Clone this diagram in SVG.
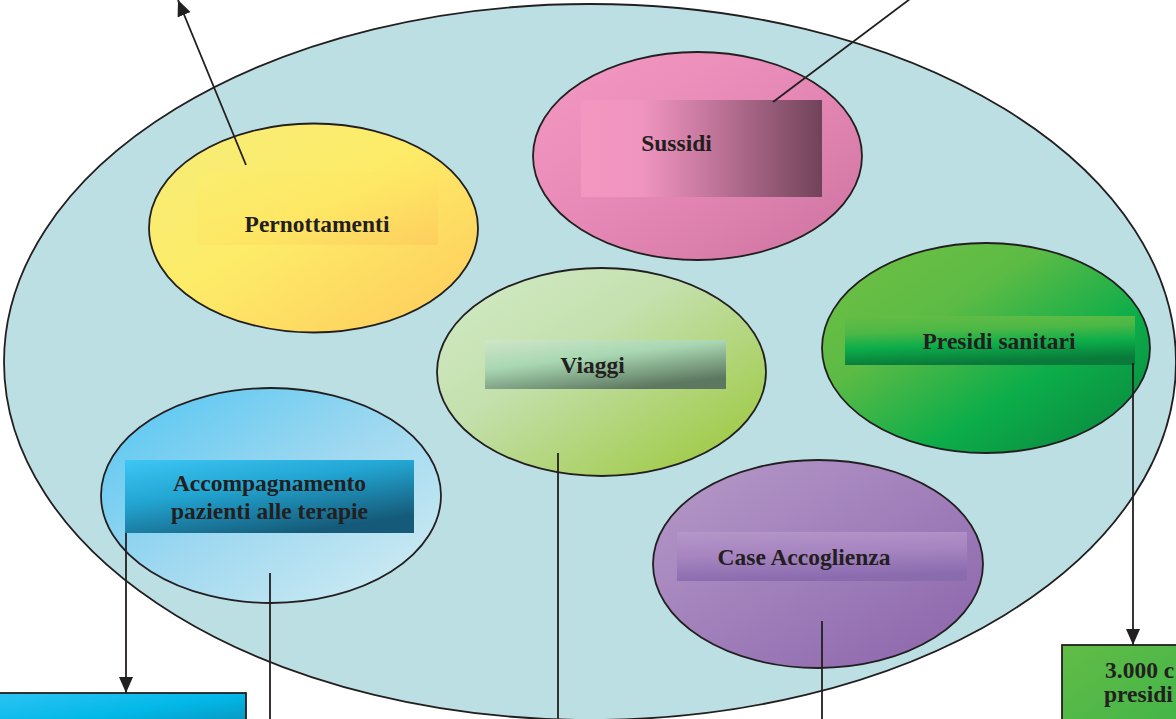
<svg xmlns="http://www.w3.org/2000/svg" width="1176" height="719" viewBox="0 0 1176 719">
<defs>
<style>
.ol{stroke:#231f20;stroke-width:1.8}
.ln{stroke:#231f20;stroke-width:1.8;fill:none}
.t{font-family:"Liberation Serif","Times New Roman",serif;font-weight:bold;font-size:23.5px;fill:#231f20;text-anchor:middle}
.tl{font-family:"Liberation Serif","Times New Roman",serif;font-weight:bold;font-size:23.5px;fill:#231f20}
</style>
<marker id="arr" viewBox="0 0 16 14" refX="16" refY="7" markerWidth="16" markerHeight="14" markerUnits="userSpaceOnUse" orient="auto">
<path d="M0,0 L16,7 L0,14 z" fill="#231f20"/>
</marker>
<linearGradient id="gPer" x1="0" y1="0" x2="1" y2="1"><stop offset="0" stop-color="#f6ec7a"/><stop offset="0.45" stop-color="#fdec68"/><stop offset="1" stop-color="#fec95c"/></linearGradient>
<linearGradient id="gPerR" x1="0" y1="0" x2="1" y2="1"><stop offset="0" stop-color="#fbee6c"/><stop offset="0.5" stop-color="#fee562"/><stop offset="1" stop-color="#fdc65c"/></linearGradient>
<linearGradient id="gSus" x1="0" y1="0" x2="1" y2="1"><stop offset="0" stop-color="#f49ac3"/><stop offset="0.5" stop-color="#e688b6"/><stop offset="1" stop-color="#cc73a0"/></linearGradient>
<linearGradient id="gSusR" x1="0" y1="0" x2="1" y2="0"><stop offset="0" stop-color="#f397c0"/><stop offset="0.25" stop-color="#f095c0"/><stop offset="0.5" stop-color="#c97aa0"/><stop offset="1" stop-color="#70435a"/></linearGradient>
<linearGradient id="gVia" x1="0" y1="0" x2="1" y2="1"><stop offset="0" stop-color="#d3ebc8"/><stop offset="0.4" stop-color="#c4e0ad"/><stop offset="1" stop-color="#98c632"/></linearGradient>
<linearGradient id="gViaR" x1="0" y1="0" x2="0.6" y2="1"><stop offset="0" stop-color="#cfe6c8"/><stop offset="0.45" stop-color="#a9d7b2"/><stop offset="1" stop-color="#5d7860"/></linearGradient>
<linearGradient id="gPre" x1="0" y1="0" x2="1" y2="1"><stop offset="0" stop-color="#72c044"/><stop offset="0.35" stop-color="#5cbb45"/><stop offset="0.65" stop-color="#0cad4a"/><stop offset="1" stop-color="#0a823c"/></linearGradient>
<linearGradient id="gPreR" x1="0" y1="0" x2="0.2" y2="1"><stop offset="0" stop-color="#66bd45"/><stop offset="0.35" stop-color="#4cb846"/><stop offset="0.65" stop-color="#0cad4a"/><stop offset="1" stop-color="#0a7a3a"/></linearGradient>
<linearGradient id="gAcc" x1="0" y1="0" x2="1" y2="1"><stop offset="0" stop-color="#4fc5f2"/><stop offset="0.5" stop-color="#9ed8f0"/><stop offset="1" stop-color="#d6eef3"/></linearGradient>
<linearGradient id="gAccR" x1="0" y1="0" x2="0.6" y2="1"><stop offset="0" stop-color="#3ec6f4"/><stop offset="0.45" stop-color="#22a5d2"/><stop offset="1" stop-color="#155a78"/></linearGradient>
<linearGradient id="gCas" x1="0" y1="0" x2="1" y2="1"><stop offset="0" stop-color="#b79ac9"/><stop offset="1" stop-color="#8a64ab"/></linearGradient>
<linearGradient id="gCasR" x1="0" y1="0" x2="0.2" y2="1"><stop offset="0" stop-color="#b597c9"/><stop offset="0.5" stop-color="#a684c0"/><stop offset="1" stop-color="#8a6bae"/></linearGradient>
<linearGradient id="gBoxL" x1="0" y1="0" x2="1" y2="1"><stop offset="0" stop-color="#2cc4f2"/><stop offset="0.5" stop-color="#02b8e8"/><stop offset="1" stop-color="#0a8cb2"/></linearGradient>
<linearGradient id="gBoxR" x1="0" y1="0" x2="1" y2="1"><stop offset="0" stop-color="#62bc46"/><stop offset="1" stop-color="#3fb449"/></linearGradient>
</defs>

<g id="container">
<ellipse cx="590" cy="362" rx="586" ry="358" fill="#bcdfe3" class="ol"/>
</g>

<g id="node-pernottamenti">
<ellipse cx="313.5" cy="228" rx="164.5" ry="104.5" fill="url(#gPer)" class="ol"/>
<rect x="197" y="172" width="241" height="73" fill="url(#gPerR)" opacity="0.6"/>
<text x="317" y="232" class="t">Pernottamenti</text>
</g>

<g id="node-sussidi">
<ellipse cx="697.5" cy="156" rx="164.5" ry="104" fill="url(#gSus)" class="ol"/>
<rect x="581" y="100" width="241" height="97" fill="url(#gSusR)"/>
<text x="676.5" y="151" class="t">Sussidi</text>
</g>

<g id="node-viaggi">
<ellipse cx="601.5" cy="372" rx="164.5" ry="104" fill="url(#gVia)" class="ol"/>
<rect x="485" y="340" width="241" height="49" fill="url(#gViaR)"/>
<text x="592.5" y="373" class="t">Viaggi</text>
</g>

<g id="node-presidi">
<ellipse cx="986" cy="348" rx="164" ry="105" fill="url(#gPre)" class="ol"/>
<rect x="845" y="316" width="290" height="49" fill="url(#gPreR)"/>
<text x="999" y="349" class="t">Presidi sanitari</text>
</g>

<g id="node-accompagnamento">
<ellipse cx="271" cy="495.5" rx="170" ry="107.5" fill="url(#gAcc)" class="ol"/>
<rect x="125" y="460" width="289" height="73" fill="url(#gAccR)"/>
<text x="269.5" y="491" class="t">Accompagnamento</text>
<text x="269.5" y="519" class="t">pazienti alle terapie</text>
</g>

<g id="node-case">
<ellipse cx="818" cy="564" rx="165" ry="104" fill="url(#gCas)" class="ol"/>
<rect x="677" y="532" width="290" height="49" fill="url(#gCasR)"/>
<text x="804" y="565" class="t">Case Accoglienza</text>
</g>

<g id="node-box-left">
<rect x="-2" y="693" width="248" height="40" fill="url(#gBoxL)" class="ol"/>
</g>

<g id="node-box-right">
<rect x="1062" y="645" width="130" height="90" fill="url(#gBoxR)" class="ol"/>
<text x="1105" y="678" class="tl">3.000 c</text>
<text x="1104" y="702" class="tl">presidi</text>
</g>

<g id="connectors">
<line x1="246" y1="165" x2="178" y2="0" class="ln" marker-end="url(#arr)"/>
<line x1="773" y1="102" x2="910" y2="-1" class="ln"/>
<line x1="1133" y1="363" x2="1133" y2="645" class="ln" marker-end="url(#arr)"/>
<line x1="126" y1="533" x2="126" y2="693" class="ln" marker-end="url(#arr)"/>
<line x1="270" y1="573" x2="270" y2="722" class="ln"/>
<line x1="558" y1="453" x2="558" y2="722" class="ln"/>
<line x1="822" y1="621" x2="822" y2="722" class="ln"/>
</g>
</svg>
